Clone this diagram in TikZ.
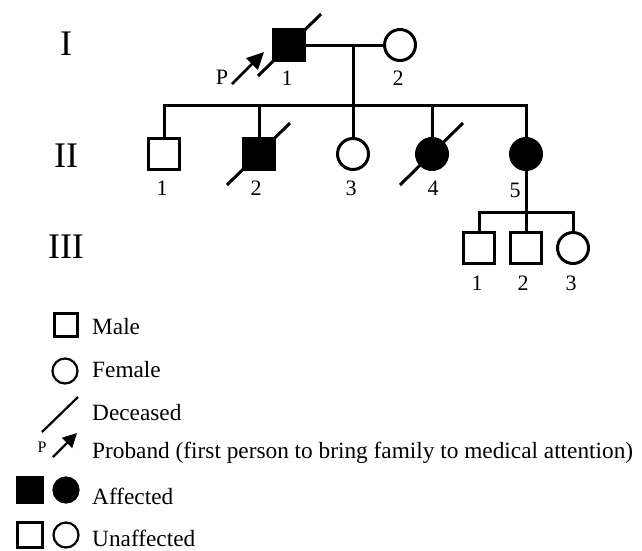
\documentclass[tikz,border=0pt]{standalone}
\usepackage{fontspec}
\setmainfont{Liberation Serif}
\usetikzlibrary{arrows.meta,calc}
\begin{document}
\begin{tikzpicture}[x=1pt,y=-1pt,
  line/.style={line width=3pt},
  male/.style={draw,line width=3pt,rectangle,minimum size=31pt,inner sep=0pt,fill=white},
  female/.style={draw,line width=3pt,circle,minimum size=31pt,inner sep=0pt,fill=white},
  aff/.style={fill=black},
  slash/.style={line width=3pt},
  num/.style={font=\fontsize{22}{22}\selectfont,inner sep=0pt},
  gen/.style={font=\fontsize{36}{36}\selectfont,inner sep=0pt},
  lmale/.style={draw,line width=2.2pt,rectangle,minimum size=23pt,inner sep=0pt},
  lfemale/.style={draw,line width=2.2pt,circle,minimum size=25pt,inner sep=0pt},
  ltext/.style={font=\fontsize{23.3}{23.3}\selectfont,anchor=west,inner sep=0pt},
  prob/.style={line width=2.8pt,-{Triangle[length=17pt,width=16pt]}}
]
\useasboundingbox (0,0) rectangle (642,550);
% generation labels
\node[gen] (gI) at (66,44) {I};
\node[gen] (gII) at (66,156) {II};
\node[gen] (gIII) at (66,247) {III};
% deceased slashes (behind symbols)
\coordinate (cI1) at (289,45);
\coordinate (cII2) at (259,154);
\coordinate (cII4) at (432,154);
\draw[slash] ($(cI1)+(-31,31)$) -- ($(cI1)+(32,-31)$);
\draw[slash] ($(cII2)+(-32,31)$) -- ($(cII2)+(31,-31)$);
\draw[slash] ($(cII4)+(-32,31)$) -- ($(cII4)+(31,-31)$);
% generation I
\node[male,aff] (I1) at (cI1) {};
\node[female] (I2) at (400,45) {};
\draw[line] (I1) -- (I2);
\node[num] (nI1) at (287,78) {1};
\node[num] (nI2) at (398,78) {2};
\node[font=\fontsize{22}{22}\selectfont,inner sep=0pt] (P) at (222,77) {P};
\coordinate (pa) at (232,84);
\coordinate (pb) at (264,52);
\draw[prob] (pa) -- (pb);
% sibship II
\coordinate (m1) at (353,45);
\coordinate (s1) at (353,105);
\draw[line] (m1) -- (s1);
\coordinate (sL) at (164,105);
\coordinate (sR) at (526,105);
\draw[line] ([xshift=-1.5pt]sL) -- ([xshift=1.5pt]sR);
% generation II
\node[male] (II1) at (164,154) {};
\node[male,aff] (II2) at (cII2) {};
\node[female] (II3) at (353,154) {};
\node[female,aff] (II4) at (cII4) {};
\node[female,aff] (II5) at (526,154) {};
\foreach \n in {II1,II2,II3,II4,II5}{
  \draw[line] (\n.north |- sL) -- (\n.north);
}
\node[num] (nII1) at (162,188) {1};
\node[num] (nII2) at (256,188) {2};
\node[num] (nII3) at (351,188) {3};
\node[num] (nII4) at (433,188) {4};
\node[num] (nII5) at (515,190) {5};
% sibship III
\coordinate (s2) at (526,212);
\draw[line] (II5.south) -- (s2);
\coordinate (tL) at (479,212);
\coordinate (tR) at (573,212);
\draw[line] ([xshift=-1.5pt]tL) -- ([xshift=1.5pt]tR);
\node[male] (III1) at (479,248) {};
\node[male] (III2) at (526,248) {};
\node[female] (III3) at (573,248) {};
\foreach \n in {III1,III2,III3}{
  \draw[line] (\n.north |- tL) -- (\n.north);
}
\node[num] (nIII1) at (477,283) {1};
\node[num] (nIII2) at (523,283) {2};
\node[num] (nIII3) at (571,283) {3};
% legend
\node[lmale] (Lm) at (66,325) {};
\node[ltext] (Tm) at (92,327) {Male};
\node[lfemale] (Lf) at (65,371) {};
\node[ltext] (Tf) at (92,370) {Female};
\coordinate (d1) at (42,432);
\coordinate (d2) at (78,397);
\draw[line width=2.2pt] (d1) -- (d2);
\node[ltext] (Td) at (92,413) {Deceased};
\node[font=\fontsize{16}{16}\selectfont,inner sep=0pt] (LP) at (42,447) {P};
\coordinate (la) at (53,457);
\coordinate (lb) at (77,433);
\draw[line width=2.2pt,-{Triangle[length=14pt,width=14pt]}] (la) -- (lb);
\node[ltext] (Tp) at (92,453) {Proband (first person to bring family to medical attention)};
\node[lmale,fill=black,minimum size=25pt] (La1) at (30,490) {};
\node[lfemale,fill=black] (La2) at (66,490) {};
\node[ltext] (Ta) at (92,496) {Affected};
\node[lmale,minimum size=25pt] (Lu1) at (30,535) {};
\node[lfemale] (Lu2) at (66,535) {};
\node[ltext] (Tu) at (92,538) {Unaffected};
\end{tikzpicture}
\end{document}
